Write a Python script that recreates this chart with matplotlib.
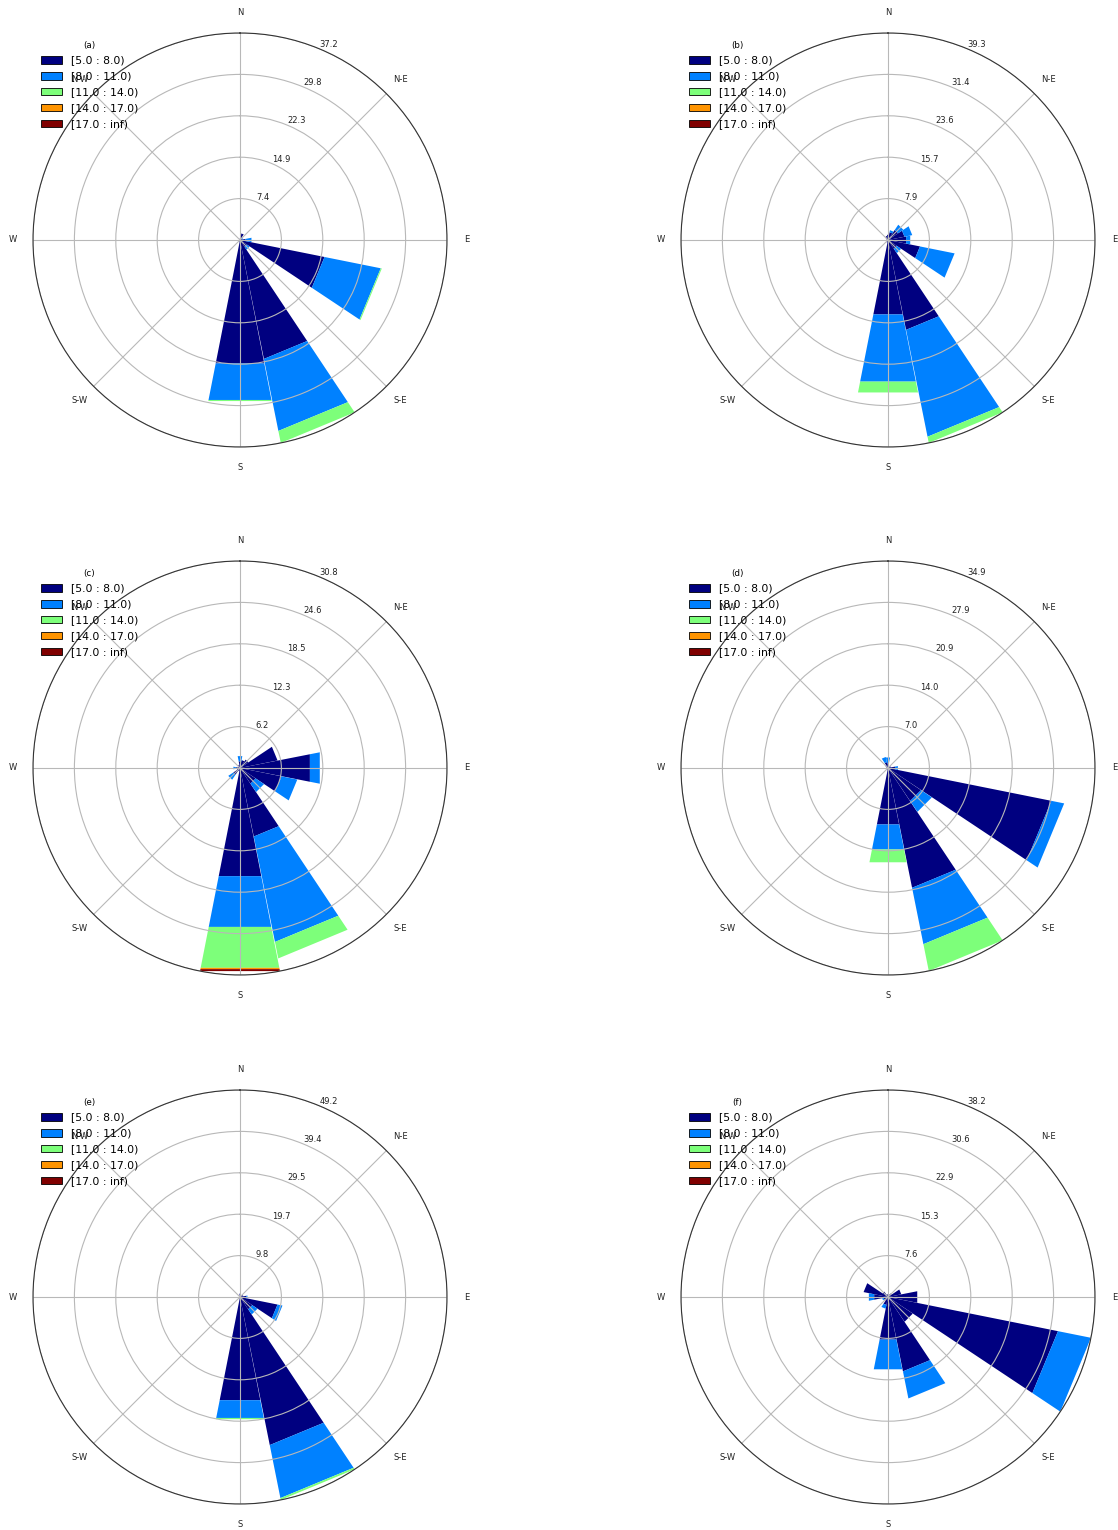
import numpy as np
import matplotlib
matplotlib.use("Agg")
import matplotlib.pyplot as plt
from matplotlib.patches import Rectangle, Patch

# 16 compass sectors, clockwise from north
directions = ["N", "NNE", "NE", "ENE", "E", "ESE", "SE", "SSE",
              "S", "SSW", "SW", "WSW", "W", "WNW", "NW", "NNW"]
speed_bins = ["[5.0 : 8.0)", "[8.0 : 11.0)", "[11.0 : 14.0)", "[14.0 : 17.0)", "[17.0 : inf)"]
panel_names = ["(a)", "(b)", "(c)", "(d)", "(e)", "(f)"]
rmax_values = [37.2, 39.3, 30.8, 34.9, 49.2, 38.2]

# frequency (%) per sector for each speed bin
#          N    NNE  NE   ENE  E    ESE   SE   SSE   S     SSW  SW   WSW  W    WNW  NW   NNW
a_5_8   = [0.3, 1.2, 0.3, 0.4, 1.0, 15.5, 1.5, 21.8, 22.6, 0.3, 0.0, 0.0, 0.0, 0.0, 0.0, 0.2]
a_8_11  = [0.0, 0.0, 0.0, 0.2, 1.1, 10.3, 0.6, 13.2, 6.7,  0.0, 0.0, 0.0, 0.0, 0.0, 0.0, 0.0]
a_11_14 = [0.0, 0.0, 0.0, 0.0, 0.0, 0.2,  0.0, 2.2,  0.2,  0.0, 0.0, 0.0, 0.0, 0.0, 0.0, 0.0]
a_14_17 = [0.0] * 16
a_17_up = [0.0] * 16

b_5_8   = [1.0, 1.5, 2.3, 3.2, 3.5, 6.2, 2.0, 17.4, 14.4, 0.5, 0.3, 0.0, 0.2, 0.3, 0.5, 0.8]
b_8_11  = [0.0, 0.4, 1.2, 1.5, 0.8, 6.7, 1.0, 20.7, 13.0, 0.0, 0.0, 0.0, 0.0, 0.0, 0.0, 0.0]
b_11_14 = [0.0, 0.0, 0.0, 0.0, 0.0, 0.0, 0.0, 1.2,  2.1,  0.0, 0.0, 0.0, 0.0, 0.0, 0.0, 0.0]
b_14_17 = [0.0] * 16
b_17_up = [0.0] * 16

c_5_8   = [1.0, 1.2, 1.5, 5.7, 10.6, 6.3, 2.8, 10.4, 16.4, 0.5, 1.2, 0.5, 0.6, 0.3, 0.3, 0.5]
c_8_11  = [0.8, 0.0, 0.0, 0.0, 1.5,  2.4, 1.5, 16.0, 7.7,  0.0, 0.9, 0.0, 0.4, 0.0, 0.0, 0.0]
c_11_14 = [0.0, 0.0, 0.0, 0.0, 0.0,  0.0, 0.0, 2.5,  6.2,  0.0, 0.0, 0.0, 0.0, 0.0, 0.0, 0.0]
c_14_17 = [0.0, 0.0, 0.0, 0.0, 0.0,  0.0, 0.0, 0.0,  0.2,  0.0, 0.0, 0.0, 0.0, 0.0, 0.0, 0.0]
c_17_up = [0.0, 0.0, 0.0, 0.0, 0.0,  0.0, 0.0, 0.0,  0.3,  0.0, 0.0, 0.0, 0.0, 0.0, 0.0, 0.0]

d_5_8   = [0.8, 0.3, 0.3, 0.5, 1.2, 28.1, 6.7, 20.6, 9.7, 0.3, 0.0, 0.0, 0.0, 0.3, 0.5, 1.0]
d_8_11  = [1.0, 0.0, 0.0, 0.0, 0.5, 2.2,  2.2, 9.7,  4.3, 0.0, 0.0, 0.0, 0.0, 0.0, 0.0, 0.9]
d_11_14 = [0.0, 0.0, 0.0, 0.0, 0.0, 0.0,  0.0, 4.6,  2.2, 0.0, 0.0, 0.0, 0.0, 0.0, 0.0, 0.0]
d_14_17 = [0.0] * 16
d_17_up = [0.0] * 16

e_5_8   = [0.8, 0.5, 0.5, 0.8, 1.5, 9.1, 3.5, 35.9,  25.0, 0.3, 0.0, 0.0, 0.0, 0.0, 0.0, 0.3]
e_8_11  = [0.0, 0.0, 0.0, 0.0, 0.3, 1.2, 1.5, 12.85, 4.3,  0.0, 0.0, 0.0, 0.0, 0.0, 0.0, 0.0]
e_11_14 = [0.0, 0.0, 0.0, 0.0, 0.0, 0.0, 0.0, 0.45,  0.3,  0.0, 0.0, 0.0, 0.0, 0.0, 0.0, 0.0]
e_14_17 = [0.0] * 16
e_17_up = [0.0] * 16

f_5_8   = [0.5, 0.5, 0.8, 2.5, 5.5, 32.0, 5.5, 14.0, 8.0, 1.5, 0.8, 0.8, 2.6, 4.6, 1.2, 0.5]
f_8_11  = [0.0, 0.0, 0.0, 0.0, 0.0, 6.2,  0.0, 5.1,  5.6, 0.7, 0.0, 0.3, 1.0, 0.0, 0.0, 0.0]
f_11_14 = [0.0] * 16
f_14_17 = [0.0] * 16
f_17_up = [0.0] * 16

tables = [
    [a_5_8, a_8_11, a_11_14, a_14_17, a_17_up],
    [b_5_8, b_8_11, b_11_14, b_14_17, b_17_up],
    [c_5_8, c_8_11, c_11_14, c_14_17, c_17_up],
    [d_5_8, d_8_11, d_11_14, d_14_17, d_17_up],
    [e_5_8, e_8_11, e_11_14, e_14_17, e_17_up],
    [f_5_8, f_8_11, f_11_14, f_14_17, f_17_up],
]

colors = plt.cm.jet(np.linspace(0, 1, len(speed_bins)))
theta_labels = ["N", "N-E", "E", "S-E", "S", "S-W", "W", "N-W"]

fig = plt.figure(figsize=(11.18, 15.30), dpi=100)

W, H = 1118, 1530
size = 414
lefts = [33, 681]
tops = [33, 561, 1090]


def windrose(ax, table, rmax, name, opening=0.99):
    ax.set_theta_zero_location("N")
    ax.set_theta_direction(-1)
    nsector = len(directions)
    sector = 2 * np.pi / nsector
    width = sector * opening
    thetas = np.arange(nsector) * sector
    offset = np.zeros(nsector)
    for j, values in enumerate(table):
        values = np.asarray(values, dtype=float)
        for k in range(nsector):
            if values[k] <= 0:
                continue
            # plain rectangles give straight outer edges in polar coords
            rect = Rectangle((thetas[k] - width / 2, offset[k]), width, values[k],
                             facecolor=colors[j], edgecolor="none", linewidth=0)
            ax.add_patch(rect)
        offset += values

    ax.set_ylim(0, rmax)
    radii = np.linspace(0, rmax, 6)[1:]
    ax.set_rgrids(radii, labels=["%.1f" % r for r in radii], angle=22.5)
    ax.set_thetagrids(np.arange(0, 360, 45), labels=theta_labels)
    ax.tick_params(axis="both", labelsize=6, colors="#222222")
    ax.tick_params(axis="x", pad=4)
    ax.grid(True, color="#b8b8b8", linewidth=0.8)
    ax.spines["polar"].set_color("#333333")
    ax.spines["polar"].set_linewidth(0.8)

    handles = [Patch(facecolor=colors[j], edgecolor="black", linewidth=0.6)
               for j in range(len(speed_bins))]
    ax.legend(handles, speed_bins, loc="upper left", frameon=False, title=name,
              fontsize=7.8, title_fontsize=6.3, labelspacing=0.55,
              borderaxespad=0.3, borderpad=0.4)


for i, name in enumerate(panel_names):
    row, col = divmod(i, 2)
    rect = [lefts[col] / W, 1 - (tops[row] + size) / H, size / W, size / H]
    ax = fig.add_axes(rect, projection="polar")
    windrose(ax, tables[i], rmax_values[i], name)

fig.savefig("out.png", dpi=100)
